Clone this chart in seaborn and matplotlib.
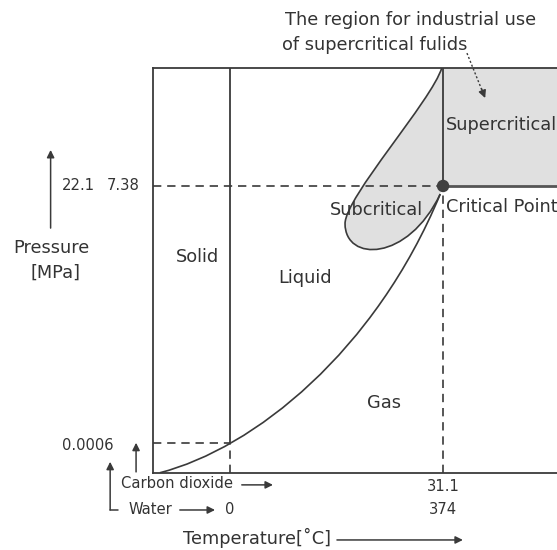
import matplotlib
matplotlib.use("Agg")
import matplotlib.pyplot as plt
from matplotlib.path import Path
from matplotlib.patches import PathPatch, Rectangle
import seaborn as sns

# Schematic phase diagram: temperature and pressure both run 0..100 across the frame
SOLID_LIQUID_T = 19.1
TRIPLE_P = 7.4
CRITICAL_T = 71.7
CRITICAL_P = 70.8

# vapour-pressure curve as one cubic Bezier (control points, T / P)
vapour_t = [1.8, 25.0, 55.0, 71.0]
vapour_p = [0.0, 6.0, 30.0, 68.8]

# outline of the subcritical region: two cubic Bezier pieces
sub_t = [71.4, 69.0, 47.5, 47.5, 47.5, 63.0, 71.0]
sub_p = [100.0, 92.0, 68.0, 61.5, 52.0, 52.0, 68.8]

# phase / region labels
region_labels = ["Solid", "Liquid", "Gas", "Subcritical", "Supercritical", "Critical Point"]
region_t = [11.0, 37.6, 57.1, 43.8, 72.4, 72.4]
region_p = [53.3, 48.1, 17.2, 64.8, 85.8, 65.6]
region_ha = ["center", "center", "center", "left", "left", "left"]

# values marked on the axes (water, carbon dioxide)
critical_pressure_labels = ["22.1", "7.38"]
triple_pressure_label = "0.0006"
triple_temp_label = "0"
critical_temp_labels = ["31.1", "374"]

LINE = "#3a3a3a"
FILL = "#e0e0e0"
TEXT = "#333333"

sns.set_theme(style="white")
plt.rcParams["font.family"] = ["DejaVu Sans"]

fig = plt.figure(figsize=(5.57, 5.5), dpi=100)
ax = fig.add_axes([0.2741, 0.1405, 0.7271, 0.7364])
ax.set_xlim(0, 100)
ax.set_ylim(0, 100)
ax.set_xticks([])
ax.set_yticks([])
for side in ["left", "top", "bottom"]:
    ax.spines[side].set_color(LINE)
    ax.spines[side].set_linewidth(1.3)
ax.spines["right"].set_visible(False)

# supercritical region
ax.add_patch(Rectangle((CRITICAL_T, CRITICAL_P), 100 - CRITICAL_T, 100 - CRITICAL_P,
                       fc=FILL, ec="none", zorder=1))

# subcritical region (filled), closed along the critical isotherm
C4 = Path.CURVE4
sub_pts = list(zip(sub_t, sub_p))
fill_path = Path(sub_pts + [(CRITICAL_T, CRITICAL_P), (CRITICAL_T, 100.0), sub_pts[0]],
                 [Path.MOVETO, C4, C4, C4, C4, C4, C4, Path.LINETO, Path.LINETO, Path.CLOSEPOLY])
ax.add_patch(PathPatch(fill_path, fc=FILL, ec="none", zorder=1))
ax.add_patch(PathPatch(Path(sub_pts, [Path.MOVETO] + [C4] * 6),
                       fill=False, ec=LINE, lw=1.2, zorder=3))

# vapour-pressure curve
ax.add_patch(PathPatch(Path(list(zip(vapour_t, vapour_p)), [Path.MOVETO, C4, C4, C4]),
                       fill=False, ec=LINE, lw=1.2, zorder=3))


def segment(x, y, lw=1.2, ls="-", color=LINE):
    sns.lineplot(x=x, y=y, ax=ax, color=color, lw=lw, linestyle=ls,
                 sort=False, estimator=None, errorbar=None, zorder=3)


dash = (0, (5, 3.5))
# melting line and triple point guides
segment([SOLID_LIQUID_T, SOLID_LIQUID_T], [TRIPLE_P, 100], lw=1.3)
segment([SOLID_LIQUID_T, SOLID_LIQUID_T], [0, TRIPLE_P], ls=dash)
segment([0, SOLID_LIQUID_T], [TRIPLE_P, TRIPLE_P], ls=dash)
# critical point guides and supercritical boundary
segment([0, CRITICAL_T], [CRITICAL_P, CRITICAL_P], ls=dash)
segment([CRITICAL_T, CRITICAL_T], [0, CRITICAL_P], ls=dash)
segment([CRITICAL_T, CRITICAL_T], [CRITICAL_P, 100], lw=1.3)
segment([CRITICAL_T, 100], [CRITICAL_P, CRITICAL_P], lw=2.0, color="#555555")
sns.scatterplot(x=[CRITICAL_T], y=[CRITICAL_P], ax=ax, s=80, color="#404040",
                edgecolor="none", zorder=5)

LABEL_FS = 12.8
NUM_FS = 10.6
for lab, t, p, ha in zip(region_labels, region_t, region_p, region_ha):
    ax.text(t, p, lab, ha=ha, va="center", fontsize=LABEL_FS, color=TEXT, zorder=6)

# pressure axis annotation
ax.text(-24.9, 55.5, "Pressure", ha="center", va="center", fontsize=LABEL_FS, color=TEXT)
ax.text(-24.1, 49.5, "[MPa]", ha="center", va="center", fontsize=LABEL_FS, color=TEXT)
ax.text(-18.3, 71.0, critical_pressure_labels[0], ha="center", va="center", fontsize=NUM_FS, color=TEXT)
ax.text(-7.3, 71.0, critical_pressure_labels[1], ha="center", va="center", fontsize=NUM_FS, color=TEXT)
ax.text(-16.0, 6.6, triple_pressure_label, ha="center", va="center", fontsize=NUM_FS, color=TEXT)

# temperature axis annotation
ax.text(5.9, -2.6, "Carbon dioxide", ha="center", va="center", fontsize=NUM_FS, color=TEXT)
ax.text(-0.5, -9.0, "Water", ha="center", va="center", fontsize=NUM_FS, color=TEXT)
ax.text(SOLID_LIQUID_T, -9.2, triple_temp_label, ha="center", va="center", fontsize=NUM_FS, color=TEXT)
ax.text(CRITICAL_T, -3.5, critical_temp_labels[0], ha="center", va="center", fontsize=NUM_FS, color=TEXT)
ax.text(CRITICAL_T, -9.2, critical_temp_labels[1], ha="center", va="center", fontsize=NUM_FS, color=TEXT)
ax.text(7.5, -16.1, "Temperature[˚C]", ha="left", va="center", fontsize=LABEL_FS, color=TEXT)

# note on the industrial region
ax.text(32.7, 111.8, "The region for industrial use", ha="left", va="center",
        fontsize=LABEL_FS, color=TEXT)
ax.text(32.0, 105.6, "of supercritical fulids", ha="left", va="center",
        fontsize=LABEL_FS, color=TEXT)


def arrow(tail, tip, ls="-"):
    ax.annotate("", xy=tip, xytext=tail, annotation_clip=False,
                arrowprops=dict(arrowstyle="-|>", color=LINE, lw=1.1, linestyle=ls,
                                mutation_scale=11, shrinkA=0, shrinkB=0))


arrow((-25.2, 60.4), (-25.2, 79.7))
arrow((-4.1, 0.2), (-4.1, 7.4))
ax.plot([-8.6, -10.5], [-9.2, -9.2], color=LINE, lw=1.1, clip_on=False)
arrow((-10.5, -9.2), (-10.5, 2.7))
arrow((22.0, -3.0), (29.7, -3.0))
arrow((6.7, -9.2), (15.4, -9.2))
arrow((45.5, -16.6), (76.6, -16.6))
ax.plot([77.6, 81.4], [103.6, 94.2], color=LINE, lw=1.0, linestyle=(0, (1.5, 1.5)), clip_on=False)
arrow((81.2, 94.8), (82.1, 92.5))

fig.savefig("out.png", dpi=100, facecolor="white")
